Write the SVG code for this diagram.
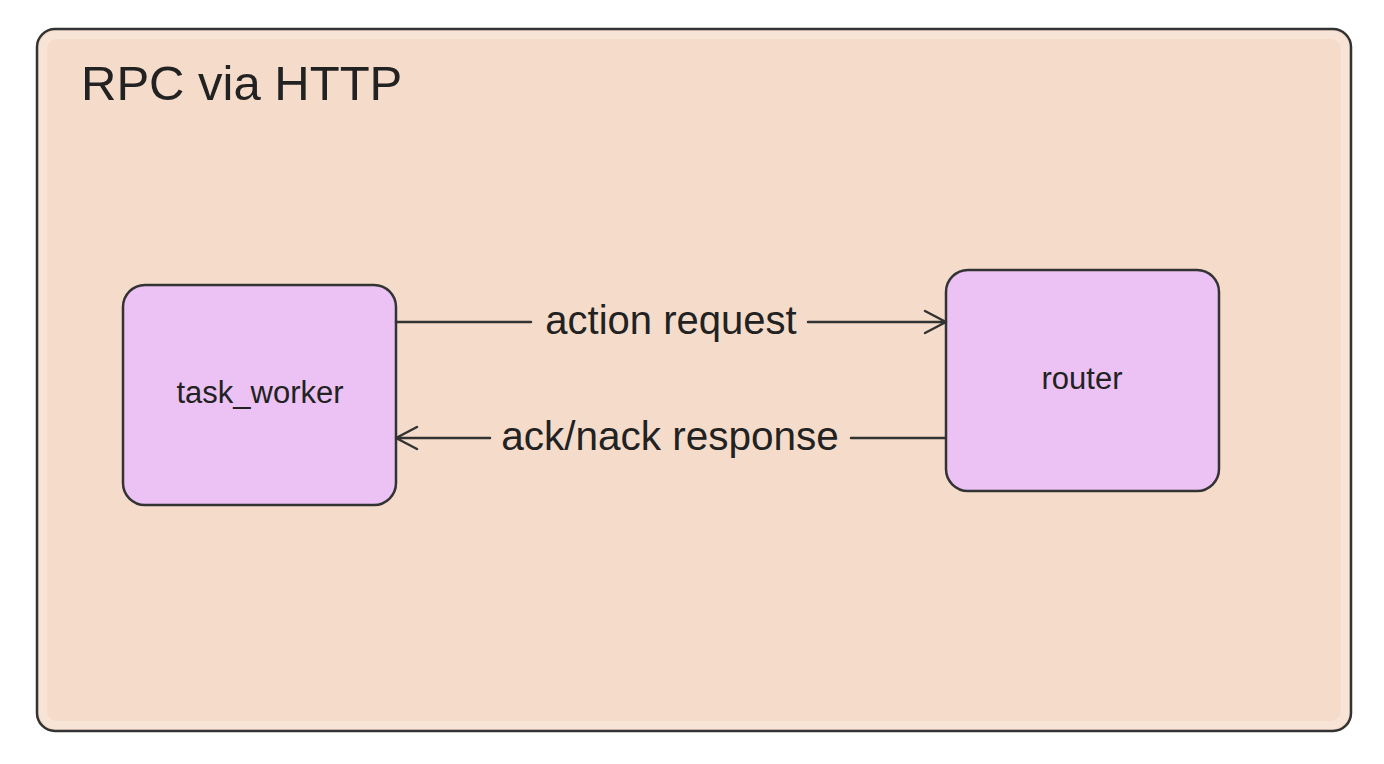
<svg xmlns="http://www.w3.org/2000/svg" width="1384" height="764" viewBox="0 0 1384 764">
  <defs>
    <style>
      .frame { fill: #f5dcca; stroke: #333333; stroke-width: 2.5; }
      .edge { fill: none; stroke: #f7e4d6; stroke-width: 8; }
      .node { fill: #ebc2f3; stroke: #333333; stroke-width: 2.5; }
      .lbl { font-family: "Liberation Sans", Arial, Helvetica, sans-serif; fill: #222222; }
      .conn { fill: none; stroke: #333333; stroke-width: 2.5; stroke-linecap: round; stroke-linejoin: round; }
    </style>
  </defs>
  <rect width="1384" height="764" fill="#ffffff"/>
  <g id="frame">
    <rect class="frame" x="37" y="29" width="1314" height="702" rx="18"/>
    <rect class="edge" x="43" y="35" width="1302" height="690" rx="14"/>
    <text class="lbl" x="81" y="100" font-size="49">RPC via HTTP</text>
  </g>
  <g id="task_worker">
    <rect class="node" x="123" y="285" width="273" height="220" rx="22"/>
    <text class="lbl" x="260" y="403" font-size="31" text-anchor="middle">task_worker</text>
  </g>
  <g id="router">
    <rect class="node" x="946" y="270" width="273" height="221" rx="22"/>
    <text class="lbl" x="1082" y="389" font-size="31" text-anchor="middle">router</text>
  </g>
  <g id="connectors">
    <path class="conn" d="M396 322 L531 322 M808 322 L945 322 M925 311 L946 322 L925 333"/>
    <text class="lbl" x="671" y="334" font-size="40" text-anchor="middle">action request</text>
    <path class="conn" d="M945 438 L851 438 M490 438 L397 438 M417 427 L396 438 L417 449"/>
    <text class="lbl" x="670" y="450" font-size="40.5" text-anchor="middle">ack/nack response</text>
  </g>
</svg>
